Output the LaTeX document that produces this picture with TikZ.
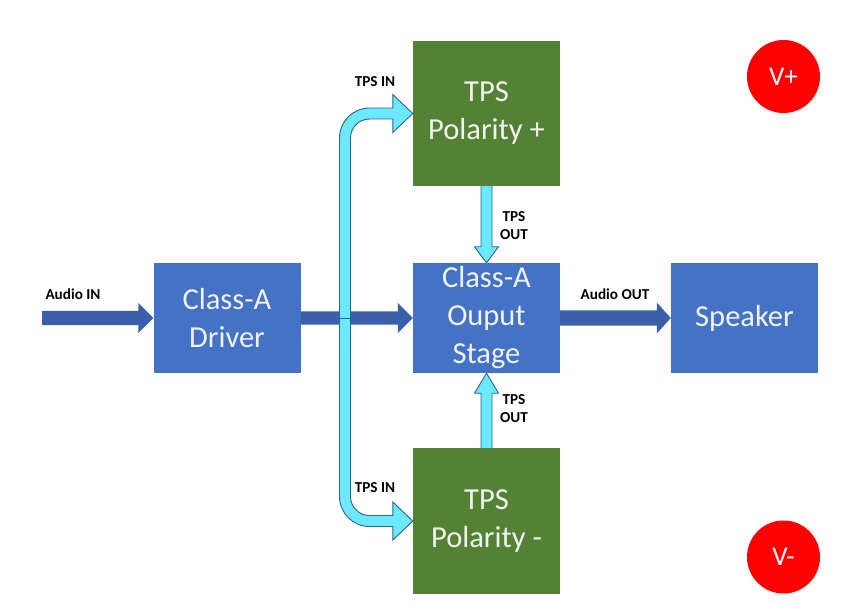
\documentclass[tikz,border=0pt]{standalone}
\usepackage{fontspec}
\setmainfont{Carlito}
\usetikzlibrary{calc}

\definecolor{boxblue}{RGB}{68,114,196}
\definecolor{arrowblue}{RGB}{58,96,172}
\definecolor{boxgreen}{RGB}{84,130,53}
\definecolor{railred}{RGB}{255,0,0}
\definecolor{tpscyan}{RGB}{108,232,255}
\definecolor{tpsedge}{RGB}{45,100,140}
\definecolor{boxtext}{RGB}{242,242,242}

\begin{document}
\begin{tikzpicture}[x=1pt,y=1pt,
  block/.style={rectangle, inner sep=0pt, minimum width=147pt, align=center,
    text=boxtext, font=\fontsize{30.5}{38}\selectfont},
  bluebox/.style={block, fill=boxblue, minimum height=110pt},
  greenbox/.style={block, fill=boxgreen, minimum height=146pt},
  rail/.style={circle, fill=railred, minimum size=73pt, inner sep=0pt,
    text=white, font=\fontsize{27}{30}\selectfont},
  lbl/.style={inner sep=0pt, align=center, text=black,
    font=\bfseries\fontsize{15.2}{18}\selectfont},
  bluearrow/.style={fill=arrowblue},
  cyanfill/.style={fill=tpscyan},
  cyanedge/.style={draw=tpsedge, line width=0.9pt, line join=miter},
]
\useasboundingbox (0,0) rectangle (868,-604);

% blocks
\node[bluebox] (driver)  at (227,-318)   {Class-A\\Driver};
\node[bluebox] (output)  at (486.5,-318) {Class-A\\Ouput\\Stage};
\node[bluebox] (speaker) at (744.5,-318) {Speaker};
\node[greenbox, minimum height=145pt] (tpsp) at (486.5,-113.5) {TPS\\Polarity +};
\node[greenbox] (tpsm) at (486.5,-521) {TPS\\Polarity -};

% supply rails
\node[rail] (vplus)  at (783.5,-76.5) {V+};
\node[rail] (vminus) at (783.5,-557)  {V-};

% free ends and the vertical bus of the TPS feed
\coordinate (audioin) at (42,-318);
\coordinate (bus) at (345,-318);

% audio path (block arrows)
\fill[bluearrow] let \p1=(audioin), \p2=(driver.west) in
  (\x1,\y2+7pt) -- (\x2-15pt,\y2+7pt) -- (\x2-15pt,\y2+15pt) -- (\x2,\y2)
  -- (\x2-15pt,\y2-15pt) -- (\x2-15pt,\y2-7pt) -- (\x1,\y2-7pt) -- cycle;
\fill[bluearrow] let \p1=(driver.east), \p2=(output.west) in
  (\x1,\y2+6.5pt) -- (\x2-15pt,\y2+6.5pt) -- (\x2-15pt,\y2+15pt) -- (\x2,\y2)
  -- (\x2-15pt,\y2-15pt) -- (\x2-15pt,\y2-6.5pt) -- (\x1,\y2-6.5pt) -- cycle;
\fill[bluearrow] let \p1=(output.east), \p2=(speaker.west) in
  (\x1,\y2+7.5pt) -- (\x2-14pt,\y2+7.5pt) -- (\x2-14pt,\y2+15.5pt) -- (\x2,\y2)
  -- (\x2-14pt,\y2-15.5pt) -- (\x2-14pt,\y2-7.5pt) -- (\x1,\y2-7.5pt) -- cycle;

% TPS IN: one bus feeding both TPS blocks
\path[cyanfill, cyanedge] let \p1=(tpsp.west), \p2=(tpsm.west), \p3=(bus) in
  (\x3-5.5pt,\y3) -- (\x3-5.5pt,\y1+5.5pt-30pt)
  arc[start angle=180, end angle=90, radius=30pt]
  -- (\x1-20pt,\y1+5.5pt) -- (\x1-20pt,\y1+19pt) -- (\x1,\y1)
  -- (\x1-20pt,\y1-19pt) -- (\x1-20pt,\y1-5.5pt)
  -- (\x3+5.5pt+19pt,\y1-5.5pt)
  arc[start angle=90, end angle=180, radius=19pt]
  -- (\x3+5.5pt,\y2+5.5pt+19pt)
  arc[start angle=180, end angle=270, radius=19pt]
  -- (\x2-20pt,\y2+5.5pt) -- (\x2-20pt,\y2+19pt) -- (\x2,\y2)
  -- (\x2-20pt,\y2-19pt) -- (\x2-20pt,\y2-5.5pt)
  -- (\x3-5.5pt+30pt,\y2-5.5pt)
  arc[start angle=270, end angle=180, radius=30pt]
  -- cycle;
\draw[tpsedge, line width=0.7pt] let \p1=(bus) in
  (\x1-5.5pt,\y1) -- (\x1+5.5pt,\y1);

% TPS OUT: both TPS blocks into the output stage
\fill[cyanfill] let \p1=(tpsp.south), \p2=(output.north) in
  (\x1-5.5pt,\y1) -- (\x1-5.5pt,\y2+16pt) -- (\x1-12pt,\y2+16pt) -- (\x2,\y2)
  -- (\x1+12pt,\y2+16pt) -- (\x1+5.5pt,\y2+16pt) -- (\x1+5.5pt,\y1) -- cycle;
\draw[cyanedge] let \p1=(tpsp.south), \p2=(output.north) in
  (\x1-5.5pt,\y1) -- (\x1-5.5pt,\y2+16pt) -- (\x1-12pt,\y2+16pt) -- (\x2,\y2)
  -- (\x1+12pt,\y2+16pt) -- (\x1+5.5pt,\y2+16pt) -- (\x1+5.5pt,\y1);
\fill[cyanfill] let \p1=(tpsm.north), \p2=(output.south) in
  (\x1-5.5pt,\y1) -- (\x1-5.5pt,\y2-20pt) -- (\x1-12pt,\y2-20pt) -- (\x2,\y2)
  -- (\x1+12pt,\y2-20pt) -- (\x1+5.5pt,\y2-20pt) -- (\x1+5.5pt,\y1) -- cycle;
\draw[cyanedge] let \p1=(tpsm.north), \p2=(output.south) in
  (\x1-5.5pt,\y1) -- (\x1-5.5pt,\y2-20pt) -- (\x1-12pt,\y2-20pt) -- (\x2,\y2)
  -- (\x1+12pt,\y2-20pt) -- (\x1+5.5pt,\y2-20pt) -- (\x1+5.5pt,\y1);

% signal labels
\node[lbl] (lblin)    at (73,-294)   {Audio IN};
\node[lbl] (lblout)   at (615,-294)  {Audio OUT};
\node[lbl] (lbltpsp)  at (375,-82)   {TPS IN};
\node[lbl] (lbltpsm)  at (375,-488)  {TPS IN};
\node[lbl] (lbloutp)  at (514,-226)  {TPS\\OUT};
\node[lbl] (lbloutm)  at (514,-409)  {TPS\\OUT};
\end{tikzpicture}
\end{document}
